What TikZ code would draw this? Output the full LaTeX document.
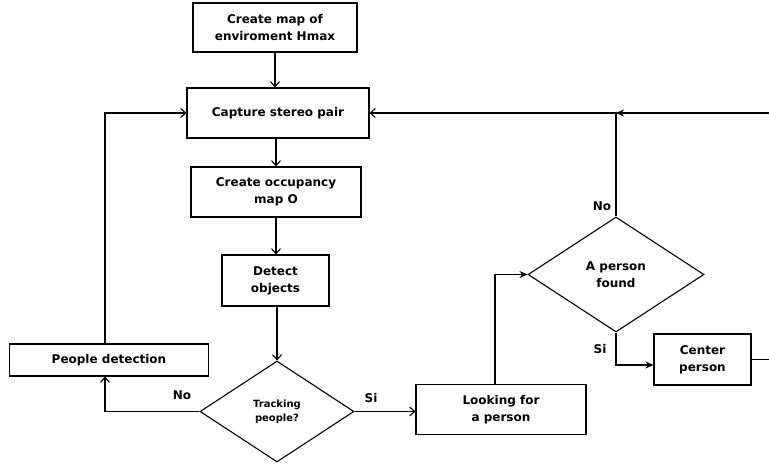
\documentclass[tikz,border=0pt]{standalone}
\usepackage{fontspec}
\setmainfont{DejaVu Sans}
\usetikzlibrary{shapes.geometric,arrows.meta,calc}
\begin{document}
\begin{tikzpicture}[x=1pt,y=-1pt,
  line width=1.1pt,
  box/.style={draw,rectangle,inner sep=0pt,align=center,font=\fontsize{12}{17}\selectfont\bfseries},
  dia/.style={draw,diamond,inner sep=0pt,align=center},
  lbl/.style={font=\fontsize{12}{14}\selectfont\bfseries,inner sep=0pt},
  arr/.style={-{Straight Barb[length=5pt,width=9pt]}},
  farr/.style={-{Stealth[length=8pt,width=7pt]}}]
\useasboundingbox (0,0) rectangle (769,466);
\node[box,minimum width=164pt,minimum height=49pt] (b1) at (275,27.5) {Create map of\\enviroment Hmax};
\node[box,minimum width=182pt,minimum height=50pt] (b2) at (278,113) {Capture stereo pair};
\node[box,minimum width=170pt,minimum height=50pt] (b3) at (276,192) {Create occupancy\\map O};
\node[box,minimum width=107pt,minimum height=51pt] (b4) at (275.5,280.5) {Detect\\objects};
\node[dia,minimum width=154pt,minimum height=101pt,font=\fontsize{10}{14}\selectfont\bfseries] (d1) at (277,411.5) {Tracking\\people?};
\node[box,minimum width=199pt,minimum height=32pt] (pd) at (109,360) {People detection};
\node[box,minimum width=170pt,minimum height=50pt] (lk) at (501,409.5) {Looking for\\a person};
\node[dia,minimum width=176pt,minimum height=115pt,font=\fontsize{12}{17}\selectfont\bfseries] (d2) at (616,274.5) {A person\\found};
\node[box,minimum width=97pt,minimum height=51pt] (cp) at (702.5,359.5) {Center\\person};
\coordinate (eT) at (769,113);
\coordinate (eB) at (769,359.5);
\coordinate (jn) at (d2.north |- b2.east);
\draw[arr] (b1.south) -- (b1.south |- b2.north);
\draw[arr] (b3 |- b2.south) -- (b3.north);
\draw[arr] (b3.south) -- (b3.south |- b4.north);
\draw[arr] (d1.north |- b4.south) -- (d1.north);
\draw[arr] (d1.west) -| ([xshift=-4pt]pd.south);
\draw[arr] ([xshift=-4pt]pd.north) |- (b2.west);
\draw[arr] (d1.east) -- (d1.east -| lk.west);
\draw[farr] ([xshift=-6pt]lk.north) |- (d2.west);
\draw[farr] (d2.south) |- ([yshift=-5.5pt]cp.west);
\draw (cp.east) -- (eB);
\draw[farr] (eT) -- (jn);
\draw[arr] (d2.north) -- (jn) -- (b2.east);
\node[lbl] (n1) at (182,395) {No};
\node[lbl] (s1) at (371,398) {Si};
\node[lbl] (n2) at (602,206) {No};
\node[lbl] (s2) at (600,349) {Si};
\end{tikzpicture}
\end{document}
